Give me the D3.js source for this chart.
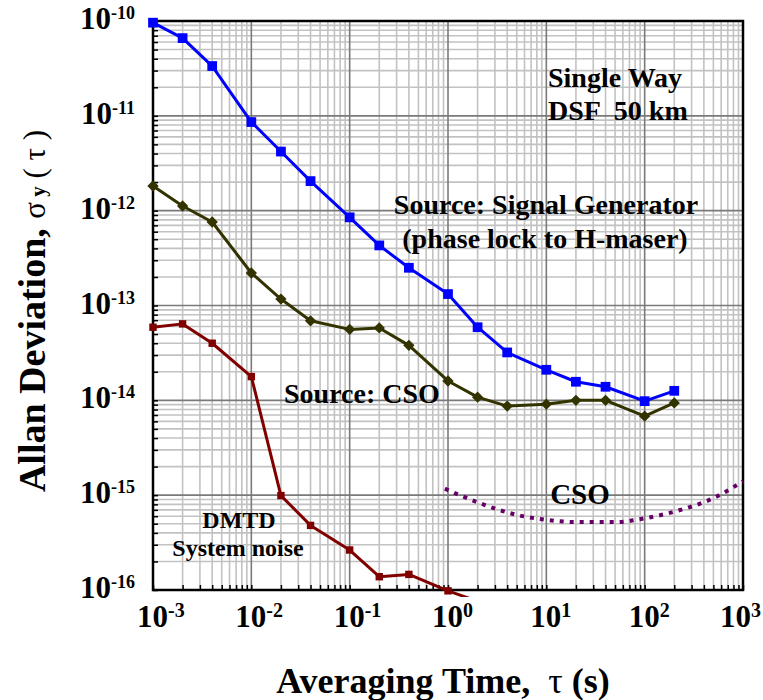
<!DOCTYPE html>
<html><head><meta charset="utf-8">
<script src="https://cdn.jsdelivr.net/npm/d3@7"></script>
<style>
body{margin:0;background:#fff;}
text{font-family:"Liberation Serif","Times New Roman",serif;font-weight:bold;fill:#000;}
</style></head><body>
<svg id="c" width="763" height="700"></svg>
<script>
// ---- data ----
const tauPoints = [1e-3,2e-3,4e-3,1e-2,2e-2,4e-2,0.1,0.2,0.4,1,2,4,10,20,40,100,200];
const signalGen = [9.6e-11,6.6e-11,3.35e-11,8.6e-12,4.2e-12,2.05e-12,8.5e-13,4.3e-13,2.5e-13,1.32e-13,5.9e-14,3.2e-14,2.1e-14,1.57e-14,1.39e-14,9.8e-15,1.26e-14];
const csoSource = [1.82e-12,1.12e-12,7.6e-13,2.2e-13,1.17e-13,6.9e-14,5.6e-14,5.8e-14,3.8e-14,1.6e-14,1.08e-14,8.7e-15,9.1e-15,1.0e-14,1.0e-14,6.8e-15,9.4e-15];
const dmtdTau = [1e-3,2e-3,4e-3,1e-2,2e-2,4e-2,0.1,0.2,0.4,1,2];
const dmtdNoise = [5.9e-14,6.4e-14,4.0e-14,1.78e-14,9.9e-16,4.8e-16,2.64e-16,1.38e-16,1.46e-16,9.8e-17,7.6e-17];
const csoTau = [0.93,2,5,10,20,50,100,200,500,1000];
const csoSpec = [1.17e-15,8.4e-16,6.2e-16,5.5e-16,5.2e-16,5.2e-16,5.7e-16,6.7e-16,9.3e-16,1.4e-15];
const xDecades = [1e-3,1e-2,1e-1,1,10,100,1000];
const xTickLabels = ["-3","-2","-1","0","1","2","3"];
const yDecades = [1e-16,1e-15,1e-14,1e-13,1e-12,1e-11,1e-10];
const yTickLabels = ["-16","-15","-14","-13","-12","-11","-10"];

// ---- layout ----
const L=153,R=743,T=21,B=590;
const svg=d3.select("#c");
const x=d3.scaleLog().domain([1e-3,1e3]).range([L,R]);
const y=d3.scaleLog().domain([1e-16,1e-10]).range([B,T]);
const isMajor=v=>Math.abs(Math.log10(v)-Math.round(Math.log10(v)))<1e-9;

// grid
const g=svg.append("g");
const xt=x.ticks(), yt=y.ticks();
g.selectAll("line.vx").data(xt.filter(v=>!isMajor(v))).join("line")
 .attr("x1",d=>x(d)).attr("x2",d=>x(d)).attr("y1",T).attr("y2",B)
 .attr("stroke","#c2c2c2").attr("stroke-width",1.6);
g.selectAll("line.hy").data(yt.filter(v=>!isMajor(v))).join("line")
 .attr("y1",d=>y(d)).attr("y2",d=>y(d)).attr("x1",L).attr("x2",R)
 .attr("stroke","#c2c2c2").attr("stroke-width",1.6);
g.selectAll("line.vxm").data(xt.filter(isMajor)).join("line")
 .attr("x1",d=>x(d)).attr("x2",d=>x(d)).attr("y1",T).attr("y2",B)
 .attr("stroke","#7a7a7a").attr("stroke-width",1.6);
g.selectAll("line.hym").data(yt.filter(isMajor)).join("line")
 .attr("y1",d=>y(d)).attr("y2",d=>y(d)).attr("x1",L).attr("x2",R)
 .attr("stroke","#7a7a7a").attr("stroke-width",1.6);

// axes (inward ticks)
svg.append("g").attr("transform",`translate(0,${B})`)
 .call(d3.axisBottom(x).tickValues(xt).tickSizeInner(-5).tickSizeOuter(0).tickFormat(""))
 .call(s=>{s.select(".domain").remove();s.selectAll("line").attr("stroke","#000").attr("stroke-width",1.5);});
svg.append("g").attr("transform",`translate(${L},0)`)
 .call(d3.axisLeft(y).tickValues(yt).tickSizeInner(-5).tickSizeOuter(0).tickFormat(""))
 .call(s=>{s.select(".domain").remove();s.selectAll("line").attr("stroke","#000").attr("stroke-width",1.5);});

// frame
svg.append("rect").attr("x",L).attr("y",T).attr("width",R-L).attr("height",B-T)
 .attr("fill","none").attr("stroke","#000").attr("stroke-width",2.5);

// tick labels
xDecades.forEach((v,i)=>{
  const off = i===xDecades.length-1 ? 23 : 16;
  const t=svg.append("text").attr("x",x(v)-off).attr("y",627);
  t.append("tspan").attr("font-size",31).text("10");
  t.append("tspan").attr("font-size",20).attr("dy",-10).text(xTickLabels[i]);
});
yDecades.forEach((v,i)=>{
  const t=svg.append("text").attr("x",135).attr("y",y(v)+8).attr("text-anchor","end");
  t.append("tspan").attr("font-size",31).text("10");
  t.append("tspan").attr("font-size",18).attr("dy",-10).text(yTickLabels[i]);
});

// clip
svg.append("clipPath").attr("id","clp").append("rect").attr("x",0).attr("y",0).attr("width",763).attr("height",597);
const plot=svg.append("g").attr("clip-path","url(#clp)");

const line=d3.line().x(d=>x(d[0])).y(d=>y(d[1]));
function series(tau,vals,color,width,sym,size,rot){
  const pts=tau.map((t,i)=>[t,vals[i]]);
  plot.append("path").datum(pts).attr("d",line).attr("fill","none")
   .attr("stroke",color).attr("stroke-width",width).attr("stroke-linejoin","round");
  plot.selectAll(null).data(pts).join("path")
   .attr("d",d3.symbol().type(sym).size(size))
   .attr("transform",d=>`translate(${x(d[0])},${y(d[1])}) rotate(${rot})`)
   .attr("fill",color);
}
series(dmtdTau,dmtdNoise,"#800000",3,d3.symbolSquare,55,0);
series(tauPoints,csoSource,"#333300",3,d3.symbolSquare,64,45);
series(tauPoints,signalGen,"#0000ff",3,d3.symbolSquare,95,0);

// CSO spec dotted curve
const cl=d3.line().x(d=>x(d[0])).y(d=>y(d[1])).curve(d3.curveMonotoneX);
plot.append("path").datum(csoTau.map((t,i)=>[t,csoSpec[i]])).attr("d",cl)
 .attr("fill","none").attr("stroke","#660066").attr("stroke-width",4).attr("stroke-dasharray","4,6");

// annotations
function lab(txt,xx,yy,fs,anchor,color){
  svg.append("text").attr("x",xx).attr("y",yy).attr("font-size",fs)
   .attr("text-anchor",anchor||"start").style("white-space","pre").attr("fill",color||"#000").text(txt);
}
lab("Single Way",548,87,28);
lab("DSF  50 km",548,120,28);
lab("Source: Signal Generator",546,214,28,"middle");
lab("(phase lock to H-maser)",545,248,28,"middle");
lab("Source: CSO",284,403,28);
lab("CSO",580,504,29,"middle","#660066");
lab("DMTD",239,528,24,"middle");
lab("System noise",238,556,24,"middle");

// axis titles
const xtitle=svg.append("text").attr("x",443).attr("y",693).attr("text-anchor","middle").attr("font-size",36).style("white-space","pre");
xtitle.append("tspan").text("Averaging Time,  ");
xtitle.append("tspan").attr("font-weight","normal").text("τ");
xtitle.append("tspan").text(" (s)");

const ytitle=svg.append("text").attr("transform","translate(45,311) rotate(-90)").attr("text-anchor","middle").style("white-space","pre");
ytitle.append("tspan").attr("font-size",38).text("Allan Deviation, ");
ytitle.append("tspan").attr("font-size",31).attr("font-weight","normal").text("σ");
ytitle.append("tspan").attr("font-size",21).text(" y");
ytitle.append("tspan").attr("font-size",31).attr("font-weight","normal").text(" ( τ )");
</script>
</body></html>
